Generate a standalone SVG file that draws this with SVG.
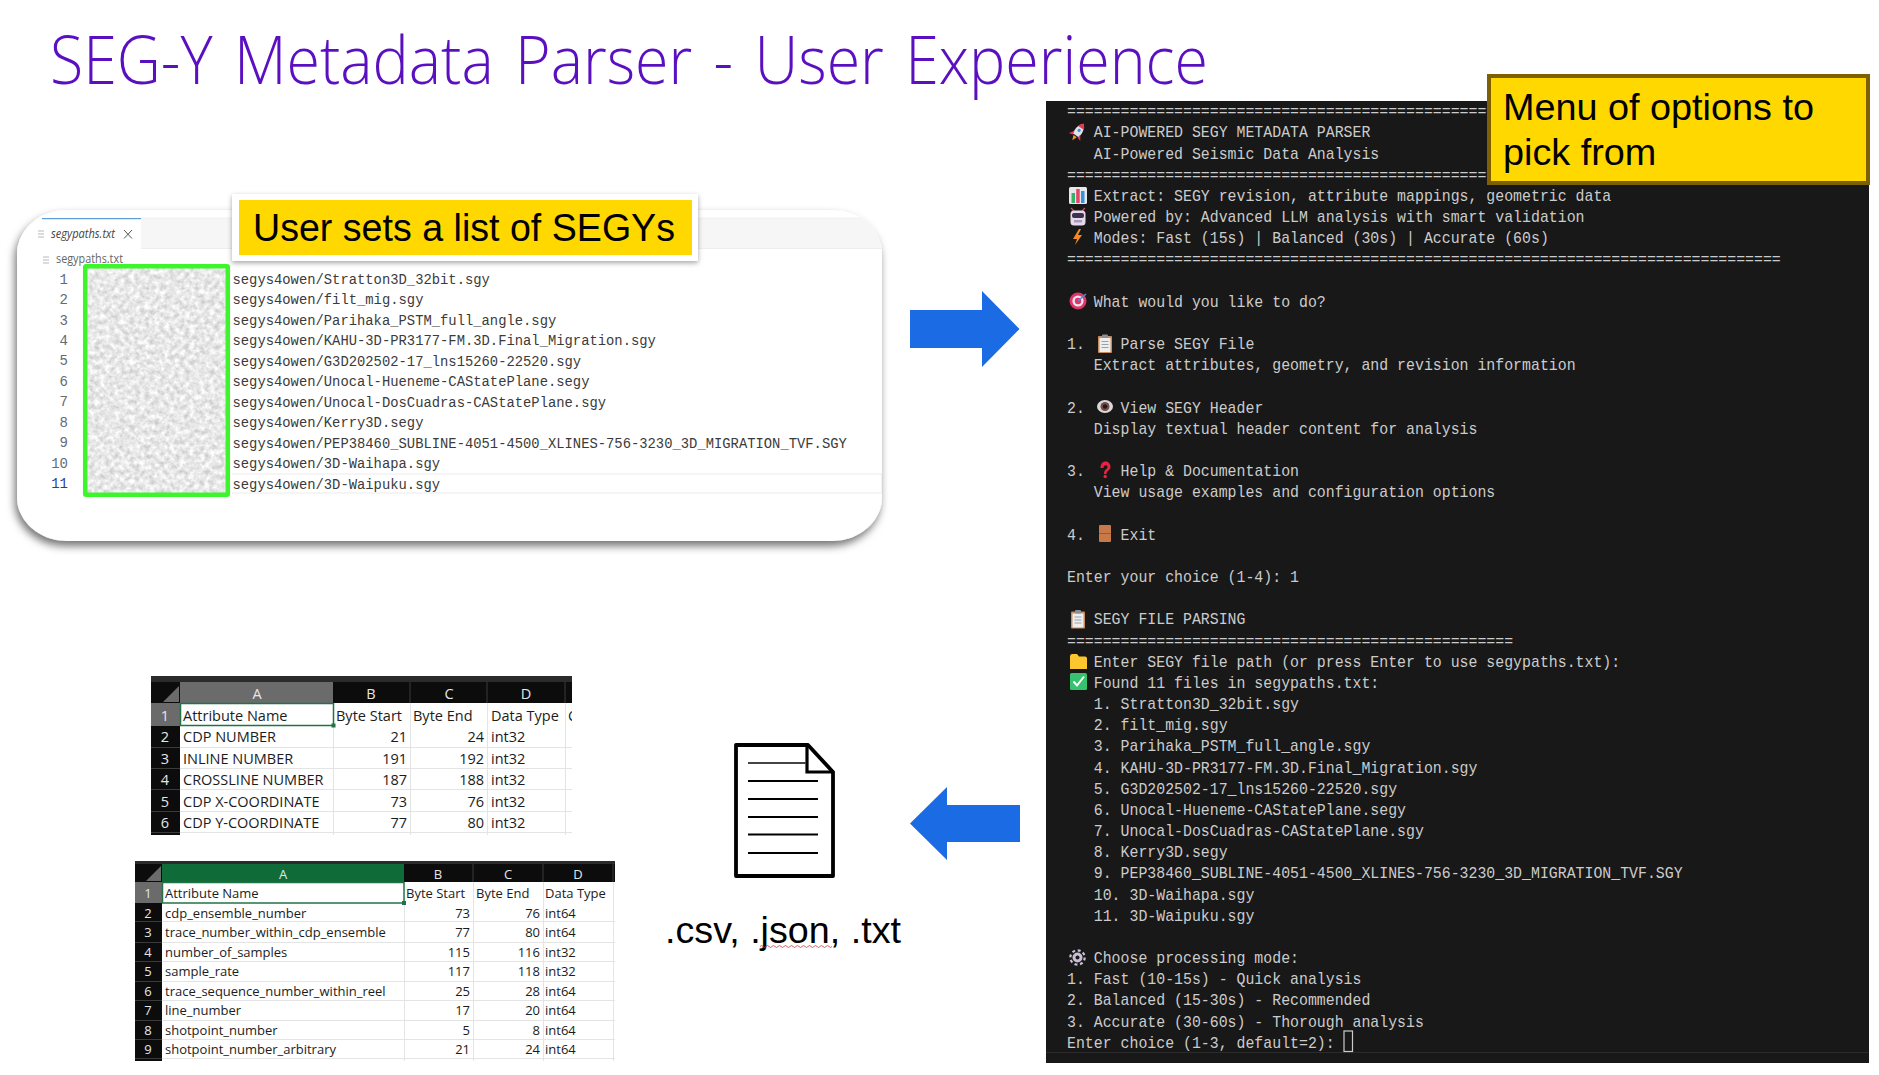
<svg xmlns="http://www.w3.org/2000/svg" width="1879" height="1075" viewBox="0 0 1879 1075">
<style>
text{white-space:pre}
.ar{font-family:"Liberation Sans",Arial,sans-serif;fill:#000}
.term text{font-family:"Liberation Mono","DejaVu Sans Mono",monospace;font-size:16px;fill:#cccccc}
.code text{font-family:"Liberation Mono","DejaVu Sans Mono",monospace;font-size:15px;fill:#3b3b3b}
.ln{font-family:"Liberation Mono","DejaVu Sans Mono",monospace;font-size:14px;fill:#636b78;text-anchor:end}
.ui{font-family:"Open Sans","Noto Sans",sans-serif;fill:#666;font-size:13px}
.xl text{font-family:"Open Sans","Noto Sans",sans-serif;fill:#1c1c1c}
.t1 text{font-size:14.5px}
.t2 text{font-size:13px}
.xl .hd{fill:#e6e6e6;text-anchor:middle}
.xl .r{text-anchor:end}
.grid{stroke:#e4e4e4;stroke-width:1}
.hsep{stroke:#3a3a3a;stroke-width:1}
.arrow{fill:#1b6be4}
</style>
<defs>
<filter id="cardShadow" x="-5%" y="-10%" width="110%" height="125%"><feDropShadow dx="-2" dy="5" stdDeviation="4.5" flood-color="#000" flood-opacity=".55"/></filter>
<filter id="labelShadow" x="-5%" y="-15%" width="110%" height="135%"><feDropShadow dx="0" dy="2" stdDeviation="2.5" flood-color="#000" flood-opacity=".35"/></filter>
<filter id="noise" x="0" y="0" width="100%" height="100%" color-interpolation-filters="sRGB"><feTurbulence type="fractalNoise" baseFrequency=".2" numOctaves="3" seed="7"/><feColorMatrix type="matrix" values=".34 0 0 0 .74  .34 0 0 0 .74  .34 0 0 0 .74  0 0 0 0 1"/><feGaussianBlur stdDeviation=".7"/></filter>
<clipPath id="cardClip"><rect x="17" y="210" width="865" height="331" rx="50" ry="44"/></clipPath>
<clipPath id="noiseClip"><rect x="87" y="268" width="139" height="225"/></clipPath>
<clipPath id="t1Clip"><rect x="151" y="676" width="421" height="159"/></clipPath>
<clipPath id="t2Clip"><rect x="135" y="861" width="480" height="200"/></clipPath>
<g id="clip-ico"><rect x="-7" y="-7.5" width="14" height="17" rx="1" fill="#c98a5e"/><rect x="-5.5" y="-5.5" width="11" height="14" fill="#eeeeee"/><rect x="-3" y="-9" width="6" height="3.5" rx="1" fill="#8a8f99"/><path d="M-3.5-2H3.5M-3.5 1H3.5M-3.5 4H3.5" stroke="#9aa0a8" stroke-width="1"/></g>
</defs>
<rect width="1879" height="1075" fill="#fff"/>

<g id="title"><text x="50" y="84" font-family="'Open Sans','Noto Sans',sans-serif" font-weight="300" font-size="66" fill="#5a0fc0" word-spacing="6" textLength="1158" lengthAdjust="spacingAndGlyphs">SEG-Y Metadata Parser - User Experience</text></g>

<g id="source-list">
<rect x="17" y="210" width="865" height="331" rx="50" ry="44" fill="#fff" filter="url(#cardShadow)"/>
<g clip-path="url(#cardClip)">
<rect x="141" y="218" width="741" height="30" fill="#f6f6f6"/>
<path d="M141 218H882" stroke="#f0f0f0" stroke-width="1"/>
<path d="M141 248.5H882" stroke="#eeeeee" stroke-width="1.2"/>
<rect x="42" y="218" width="99" height="1.2" fill="#5a9bd8"/>
<path d="M232 474H882V493H232" fill="none" stroke="#ececec" stroke-width="1.2"/>
</g>
<path d="M38 231h6M38 234h6M38 237h6" stroke="#b8b8b8" stroke-width="1"/>
<text class="ui" x="51" y="238" font-style="italic" style="fill:#444" textLength="64" lengthAdjust="spacingAndGlyphs">segypaths.txt</text>
<path d="M124 230l8 8.5M132 230l-8 8.5" stroke="#555" stroke-width="1"/>
<path d="M43 257h6M43 260h6M43 263h6" stroke="#b8b8b8" stroke-width="1"/>
<text class="ui" x="56" y="263" textLength="67" lengthAdjust="spacingAndGlyphs">segypaths.txt</text>
<g clip-path="url(#noiseClip)"><rect x="80" y="260" width="155" height="240" filter="url(#noise)"/></g>
<rect x="85.2" y="266.3" width="142.6" height="228.4" rx="1" fill="none" stroke="#3cf52a" stroke-width="4.5"/>
<text class="ln" x="68" y="283.5">1</text><text class="ln" x="68" y="304">2</text><text class="ln" x="68" y="324.5">3</text><text class="ln" x="68" y="345">4</text><text class="ln" x="68" y="365.4">5</text><text class="ln" x="68" y="385.9">6</text><text class="ln" x="68" y="406.4">7</text><text class="ln" x="68" y="426.8">8</text><text class="ln" x="68" y="447.3">9</text><text class="ln" x="68" y="467.8">10</text><text class="ln" x="68" y="488.2" style="fill:#2f3a98">11</text>
<g class="code" transform="translate(232.5,.5) scale(.923,1)">
<text y="283.5">segys4owen/Stratton3D_32bit.sgy</text>
<text y="304">segys4owen/filt_mig.sgy</text>
<text y="324.5">segys4owen/Parihaka_PSTM_full_angle.sgy</text>
<text y="345">segys4owen/KAHU-3D-PR3177-FM.3D.Final_Migration.sgy</text>
<text y="365.4">segys4owen/G3D202502-17_lns15260-22520.sgy</text>
<text y="385.9">segys4owen/Unocal-Hueneme-CAStatePlane.segy</text>
<text y="406.4">segys4owen/Unocal-DosCuadras-CAStatePlane.sgy</text>
<text y="426.8">segys4owen/Kerry3D.segy</text>
<text y="447.3">segys4owen/PEP38460_SUBLINE-4051-4500_XLINES-756-3230_3D_MIGRATION_TVF.SGY</text>
<text y="467.8">segys4owen/3D-Waihapa.sgy</text>
<text y="488.2">segys4owen/3D-Waipuku.sgy</text>
</g>
</g>
<g id="label-user-sets">
<rect x="232" y="194" width="466" height="67" fill="#fff" filter="url(#labelShadow)"/>
<rect x="239" y="200" width="453" height="55" fill="#ffd800"/>
<text class="ar" x="253" y="241" font-size="38" textLength="422" lengthAdjust="spacingAndGlyphs">User sets a list of SEGYs</text>
</g>

<g id="terminal">
<rect x="1046" y="101" width="823" height="962" fill="#181818"/>
<rect x="1046" y="1052" width="823" height="1" fill="#2b2b2b"/>
<g class="term" transform="translate(1067,.5) scale(.93,1)">
<text y="115.8">===============================================</text>
<text x="28.8" y="137">AI-POWERED SEGY METADATA PARSER</text>
<text x="28.8" y="158.2">AI-Powered Seismic Data Analysis</text>
<text y="179.3">===============================================</text>
<text x="28.8" y="200.5">Extract: SEGY revision, attribute mappings, geometric data</text>
<text x="28.8" y="221.7">Powered by: Advanced LLM analysis with smart validation</text>
<text x="28.8" y="242.9">Modes: Fast (15s) | Balanced (30s) | Accurate (60s)</text>
<text y="264">================================================================================</text>
<text x="28.8" y="306.4">What would you like to do?</text>
<text y="348.7">1.</text><text x="57.6" y="348.7">Parse SEGY File</text>
<text x="28.8" y="369.9">Extract attributes, geometry, and revision information</text>
<text y="412.2">2.</text><text x="57.6" y="412.2">View SEGY Header</text>
<text x="28.8" y="433.4">Display textual header content for analysis</text>
<text y="475.7">3.</text><text x="57.6" y="475.7">Help &amp; Documentation</text>
<text x="28.8" y="496.9">View usage examples and configuration options</text>
<text y="539.2">4.</text><text x="57.6" y="539.2">Exit</text>
<text y="581.6">Enter your choice (1-4): 1</text>
<text x="28.8" y="623.9">SEGY FILE PARSING</text>
<text y="645.1">==================================================</text>
<text x="28.8" y="666.3">Enter SEGY file path (or press Enter to use segypaths.txt):</text>
<text x="28.8" y="687.4">Found 11 files in segypaths.txt:</text>
<text x="28.8" y="708.6">1. Stratton3D_32bit.sgy</text>
<text x="28.8" y="729.8">2. filt_mig.sgy</text>
<text x="28.8" y="750.9">3. Parihaka_PSTM_full_angle.sgy</text>
<text x="28.8" y="772.1">4. KAHU-3D-PR3177-FM.3D.Final_Migration.sgy</text>
<text x="28.8" y="793.3">5. G3D202502-17_lns15260-22520.sgy</text>
<text x="28.8" y="814.4">6. Unocal-Hueneme-CAStatePlane.segy</text>
<text x="28.8" y="835.6">7. Unocal-DosCuadras-CAStatePlane.sgy</text>
<text x="28.8" y="856.8">8. Kerry3D.segy</text>
<text x="28.8" y="878">9. PEP38460_SUBLINE-4051-4500_XLINES-756-3230_3D_MIGRATION_TVF.SGY</text>
<text x="28.8" y="899.1">10. 3D-Waihapa.sgy</text>
<text x="28.8" y="920.3">11. 3D-Waipuku.sgy</text>
<text x="28.8" y="962.6">Choose processing mode:</text>
<text y="983.8">1. Fast (10-15s) - Quick analysis</text>
<text y="1005">2. Balanced (15-30s) - Recommended</text>
<text y="1026.1">3. Accurate (30-60s) - Thorough analysis</text>
<text y="1047.3">Enter choice (1-3, default=2):</text>
</g>
<rect x="1344" y="1031" width="8.5" height="20.5" fill="none" stroke="#cccccc" stroke-width="1.2"/>
<g id="icons">
<g transform="translate(1078,132) rotate(35)"><path d="M0-10C4-6 4.5-1 3.5 4H-3.5C-4.5-1-4-6 0-10Z" fill="#dfe3ea"/><path d="M0-10C2-8 3-7 3.4-5H-3.4C-3-7-2-8 0-10Z" fill="#e8384f"/><path d="M-3.5 1L-7 6L-3 5ZM3.5 1L7 6L3 5Z" fill="#e8384f"/><path d="M-2 5L0 10L2 5Z" fill="#f59a23"/><circle cy="-2" r="1.6" fill="#3d8fd6"/></g>
<g transform="translate(1078,195)"><rect x="-9" y="-8" width="18" height="17" rx="1.5" fill="#e6e8ec"/><rect x="-6.5" y="-2" width="3.5" height="10" fill="#35b36a"/><rect x="-1.8" y="-6" width="3.5" height="14" fill="#e0476a"/><rect x="3" y="-4" width="3.5" height="12" fill="#3d8fd6"/></g>
<g transform="translate(1078,217)"><path d="M-7-9l3 3M7-9l-3 3" stroke="#c9486a" stroke-width="1.4"/><rect x="-7.5" y="-6.5" width="15" height="15" rx="3.5" fill="#e6d8ea"/><rect x="-6" y="-4" width="12" height="5" rx="2" fill="#3a3050"/><rect x="-4" y="3" width="8" height="2.5" fill="#a59ab8"/></g>
<path d="M1079 229L1073 239H1077L1075 245L1082 235H1078L1081 229Z" fill="#f58a23"/>
<g transform="translate(1078,301)"><circle r="8.5" fill="#e0356a"/><circle r="5.6" fill="#f2e6ea"/><circle r="3.2" fill="#e0356a"/><path d="M0 0L8-7" stroke="#4a8fd6" stroke-width="1.6"/></g>
<use href="#clip-ico" transform="translate(1105,343.5)"/>
<g transform="translate(1105,406.5)"><ellipse rx="8" ry="6.5" fill="#d9d9d9"/><circle r="4.5" fill="#7a4a48"/><circle r="2.2" fill="#1c1c1c"/></g>
<g fill="#f01f3d"><path d="M1100.5 468C1100.5 459 1110.5 460 1110.5 467C1110.5 470.5 1106.5 470.5 1106.5 474H1104C1104 469 1107.5 469.5 1107.5 467C1107.5 464.5 1103.5 464.5 1103.5 468Z"/><circle cx="1105.2" cy="476.5" r="1.7"/></g>
<g><rect x="1099" y="525" width="12" height="17" rx="1" fill="#c8794a"/><path d="M1099 533.5H1111" stroke="#9c5a33" stroke-width="1"/></g>
<use href="#clip-ico" transform="translate(1078,619)"/>
<path d="M1070 669V656.5Q1070 654 1072 654H1077L1079 656.5H1085Q1087 656.5 1087 658.5V669Z" fill="#fdc52e"/>
<g><rect x="1070" y="673" width="17" height="17" rx="1.5" fill="#36c26e"/><path d="M1073.5 681.5L1077 685.5L1084 676.5" fill="none" stroke="#fff" stroke-width="2"/></g>
<g transform="translate(1077.5,957.5)"><circle r="5" fill="#c9bfd6"/><circle r="2" fill="#181818"/><circle r="7.2" fill="none" stroke="#c9bfd6" stroke-width="2.2" stroke-dasharray="3 2.65"/></g>
</g>
</g>
<g id="label-menu">
<rect x="1489" y="76" width="379" height="107" fill="#ffd800" stroke="#7f6000" stroke-width="4"/>
<text class="ar" x="1503" y="120" font-size="37.8">Menu of options to</text>
<text class="ar" x="1503" y="165" font-size="37.8">pick from</text>
</g>

<g id="connectors">
<path id="arrow-to-terminal" class="arrow" d="M910 310H982V291L1019.5 329L982 367V348H910Z"/>
<path id="arrow-to-output" class="arrow" d="M1020 805H947V787L910 823.5L947 860V842H1020Z"/>
</g>

<g id="output-file">
<path d="M736 745H808L833 772V876H736Z" fill="#fff" stroke="#000" stroke-width="3.8" stroke-linejoin="round"/>
<path d="M807 745V772H833" fill="none" stroke="#000" stroke-width="3.2"/>
<path d="M748 763H806" stroke="#444" stroke-width="1.8"/>
<path d="M748 781H818M748 799H818M748 817H818M748 834.5H818M748 853H818" stroke="#000" stroke-width="2"/>
<text class="ar" x="665" y="943" font-size="37.7">.csv, .json, .txt</text>
<path d="M760 946.5q1.5-2 3 0t3 0t3 0t3 0t3 0t3 0t3 0t3 0t3 0t3 0t3 0t3 0t3 0t3 0t3 0t3 0t3 0t3 0t3 0t3 0t3 0t3 0t3 0t3 0" fill="none" stroke="#d83b3b" stroke-width=".8"/>
</g>

<g id="table-standard" class="xl t1" clip-path="url(#t1Clip)">
<rect x="151" y="676" width="421" height="159" fill="#fff"/>
<rect x="151" y="676" width="421" height="7" fill="#2b2b2b"/>
<rect x="151" y="682" width="421" height="21" fill="#0c0c0c"/>
<rect x="151" y="703" width="29" height="132" fill="#0c0c0c"/>
<rect x="151" y="703" width="29" height="23" fill="#6b6b6b"/>
<rect x="180" y="682" width="153" height="21" fill="#6b6b6b"/>
<path d="M179 702V686L163 702Z" fill="#6b6b6b"/>
<path class="hsep" d="M410 682V703M487 682V703M565 682V703M151 747.5H180M151 768.5H180M151 789.5H180M151 811.5H180M151 832.5H180"/>
<path class="grid" d="M180 747.5H572M180 768.5H572M180 789.5H572M180 811.5H572M180 832.5H572M333.5 726V835M410.5 703V835M487.5 703V835M565.5 703V835"/>
<rect x="180.5" y="703.5" width="153" height="22" fill="#fff" stroke="#217346" stroke-width="1.5"/>
<rect x="331.5" y="723.5" width="4" height="4" fill="#217346"/>
<text class="hd" x="257" y="699">A</text><text class="hd" x="371" y="699">B</text><text class="hd" x="449" y="699">C</text><text class="hd" x="526" y="699">D</text>
<text class="hd" x="165" y="721">1</text><text class="hd" x="165" y="742">2</text><text class="hd" x="165" y="764">3</text><text class="hd" x="165" y="785">4</text><text class="hd" x="165" y="807">5</text><text class="hd" x="165" y="828">6</text>
<text x="183" y="721">Attribute Name</text><text x="336" y="721">Byte Start</text><text x="413" y="721">Byte End</text><text x="491" y="721">Data Type</text><text x="568" y="721">C</text>
<text x="183" y="742">CDP NUMBER</text><text class="r" x="407" y="742">21</text><text class="r" x="484" y="742">24</text><text x="491" y="742">int32</text>
<text x="183" y="764">INLINE NUMBER</text><text class="r" x="407" y="764">191</text><text class="r" x="484" y="764">192</text><text x="491" y="764">int32</text>
<text x="183" y="785">CROSSLINE NUMBER</text><text class="r" x="407" y="785">187</text><text class="r" x="484" y="785">188</text><text x="491" y="785">int32</text>
<text x="183" y="807">CDP X-COORDINATE</text><text class="r" x="407" y="807">73</text><text class="r" x="484" y="807">76</text><text x="491" y="807">int32</text>
<text x="183" y="828">CDP Y-COORDINATE</text><text class="r" x="407" y="828">77</text><text class="r" x="484" y="828">80</text><text x="491" y="828">int32</text>
</g>

<g id="table-raw" class="xl t2" clip-path="url(#t2Clip)">
<rect x="135" y="861" width="480" height="200" fill="#fff"/>
<rect x="135" y="861" width="480" height="4" fill="#2b2b2b"/>
<rect x="135" y="864" width="480" height="18" fill="#0c0c0c"/>
<rect x="135" y="882" width="27" height="179" fill="#0c0c0c"/>
<rect x="135" y="882" width="27" height="21" fill="#6b6b6b"/>
<rect x="162" y="864" width="242" height="18" fill="#0f6b38"/>
<path d="M161 881V866L146 881Z" fill="#6b6b6b"/>
<path class="hsep" d="M473 864V882M543 864V882M613 864V882M135 921.5H162M135 942.5H162M135 961.5H162M135 981.5H162M135 1000.5H162M135 1020.5H162M135 1039.5H162M135 1058.5H162"/>
<path class="grid" d="M162 921.5H615M162 942.5H615M162 961.5H615M162 981.5H615M162 1000.5H615M162 1020.5H615M162 1039.5H615M162 1058.5H615M404.5 903V1061M473.5 882V1061M543.5 882V1061M613.5 882V1061"/>
<rect x="162.5" y="882.5" width="241.5" height="20.5" fill="#fff" stroke="#217346" stroke-width="1.5"/>
<rect x="402" y="901" width="4" height="4" fill="#217346"/>
<text class="hd" x="283" y="879">A</text><text class="hd" x="438" y="879">B</text><text class="hd" x="508" y="879">C</text><text class="hd" x="578" y="879">D</text>
<text class="hd" x="148" y="898">1</text><text class="hd" x="148" y="918">2</text><text class="hd" x="148" y="937">3</text><text class="hd" x="148" y="957">4</text><text class="hd" x="148" y="976">5</text><text class="hd" x="148" y="996">6</text><text class="hd" x="148" y="1015">7</text><text class="hd" x="148" y="1035">8</text><text class="hd" x="148" y="1054">9</text>
<text x="165" y="898">Attribute Name</text><text x="406" y="898">Byte Start</text><text x="476" y="898">Byte End</text><text x="545" y="898">Data Type</text>
<text x="165" y="918">cdp_ensemble_number</text><text class="r" x="470" y="918">73</text><text class="r" x="540" y="918">76</text><text x="545" y="918">int64</text>
<text x="165" y="937">trace_number_within_cdp_ensemble</text><text class="r" x="470" y="937">77</text><text class="r" x="540" y="937">80</text><text x="545" y="937">int64</text>
<text x="165" y="957">number_of_samples</text><text class="r" x="470" y="957">115</text><text class="r" x="540" y="957">116</text><text x="545" y="957">int32</text>
<text x="165" y="976">sample_rate</text><text class="r" x="470" y="976">117</text><text class="r" x="540" y="976">118</text><text x="545" y="976">int32</text>
<text x="165" y="996">trace_sequence_number_within_reel</text><text class="r" x="470" y="996">25</text><text class="r" x="540" y="996">28</text><text x="545" y="996">int64</text>
<text x="165" y="1015">line_number</text><text class="r" x="470" y="1015">17</text><text class="r" x="540" y="1015">20</text><text x="545" y="1015">int64</text>
<text x="165" y="1035">shotpoint_number</text><text class="r" x="470" y="1035">5</text><text class="r" x="540" y="1035">8</text><text x="545" y="1035">int64</text>
<text x="165" y="1054">shotpoint_number_arbitrary</text><text class="r" x="470" y="1054">21</text><text class="r" x="540" y="1054">24</text><text x="545" y="1054">int64</text>
</g>
</svg>
